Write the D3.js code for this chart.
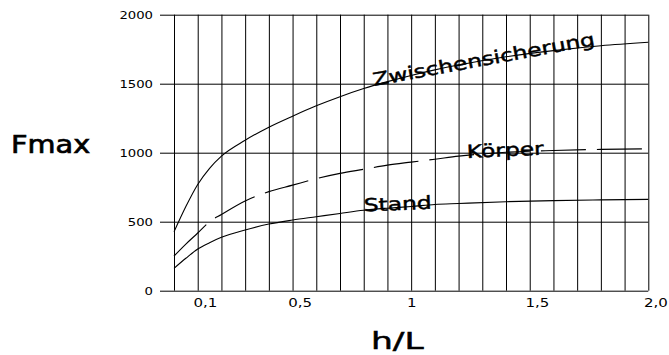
<!DOCTYPE html>
<html>
<head>
<meta charset="utf-8">
<script src="https://cdn.jsdelivr.net/npm/d3@7"></script>
<style>
  html, body { margin: 0; padding: 0; background: #fff; }
  svg { display: block; }
  text { font-family: "DejaVu Sans", Verdana, sans-serif; fill: #000; }
</style>
</head>
<body>
<svg id="chart" width="669" height="355"></svg>
<script>
// ---- data ----
const hValues = [0, 0.05, 0.1, 0.15, 0.2, 0.3, 0.4, 0.5, 0.6, 0.7, 0.8, 0.9, 1.0, 1.1, 1.2, 1.4, 1.6, 1.8, 2.0];
const zwischensicherung = [427, 610, 770, 887, 975, 1090, 1185, 1265, 1340, 1406, 1465, 1515, 1560, 1600, 1635, 1695, 1740, 1775, 1800];
const koerper = [251, 338, 418, 500, 552, 650, 718, 765, 812, 850, 880, 910, 932, 953, 975, 1003, 1016, 1024, 1028];
const stand = [162, 235, 302, 348, 387, 440, 483, 512, 536, 560, 583, 598, 610, 625, 632, 645, 653, 658, 662];
const seriesNames = ["Zwischensicherung", "Körper", "Stand"];
const labelH = [0.843, 1.236, 0.801];
const labelF = [1483, 962, 574];
const yTicks = [0, 500, 1000, 1500, 2000];
const xGridTicks = [0, 0.1, 0.2, 0.3, 0.4, 0.5, 0.6, 0.7, 0.8, 0.9, 1.0, 1.1, 1.2, 1.3, 1.4, 1.5, 1.6, 1.7, 1.8, 1.9, 2.0];
const xLabelValues = [0.1, 0.5, 1.0, 1.5, 2.0];
const xLabelTexts = ["0,1", "0,5", "1", "1,5", "2,0"];
const yTitle = "Fmax";
const xTitle = "h/L";

(function () {
// ---- layout ----
const svg = d3.select("#chart");
const W = 669, H = 355;
const pLeft = 174, pRight = 648.3, pTop = 14.7, pBottom = 290.7;
const x = d3.scaleLinear().domain([0, 2]).range([pLeft, pRight]);
const y = d3.scaleLinear().domain([0, 2000]).range([pBottom, pTop]);

svg.append("rect").attr("width", W).attr("height", H).attr("fill", "#fff");

// y axis with horizontal grid lines
const yAxisX = 160;
const yAxis = svg.append("g")
  .attr("transform", `translate(${yAxisX},0)`)
  .call(d3.axisLeft(y).tickValues(yTicks).tickSizeInner(-(pRight - yAxisX)).tickSizeOuter(0).tickPadding(7).tickFormat(d => String(d)));
yAxis.select(".domain").remove();
yAxis.selectAll(".tick line").attr("stroke", "#000").attr("stroke-width", 1);
const ySx = 1.2;
yAxis.selectAll(".tick text")
  .attr("font-size", 11)
  .attr("font-family", "DejaVu Sans")
  .attr("x", -7 / ySx)
  .attr("transform", `scale(${ySx},1)`);

// x axis with vertical grid lines
const xAxis = svg.append("g")
  .attr("transform", `translate(0,${pBottom})`)
  .call(d3.axisBottom(x).tickValues(xGridTicks).tickSizeInner(-(pBottom - pTop)).tickSizeOuter(0).tickPadding(6)
    .tickFormat(d => {
      const i = xLabelValues.findIndex(v => Math.abs(v - d) < 1e-9);
      return i >= 0 ? xLabelTexts[i] : "";
    }));
xAxis.select(".domain").remove();
xAxis.selectAll(".tick line").attr("stroke", "#000").attr("stroke-width", 1);
const xSx = 1.2, xFs = 12.5;
xAxis.selectAll(".tick text").each(function(d) {
  const t = d3.select(this);
  const s = t.text();
  t.attr("font-size", xFs).attr("font-family", "DejaVu Sans").attr("dy", null).attr("y", 16);
  if (!s) return;
  if (s.length === 1) {
    t.attr("text-anchor", "middle").attr("x", 0).attr("transform", `scale(${xSx},1)`);
  } else {
    const digitW = 0.636 * xFs * xSx;
    let startX = -digitW / 2;
    const w = this.getComputedTextLength() * xSx;
    const tickX = x(d);
    if (tickX + startX + w > W - 1) startX = (W - 1) - tickX - w;
    t.attr("text-anchor", "start").attr("x", startX / xSx).attr("transform", `scale(${xSx},1)`);
  }
});

// curves
const seriesData = [zwischensicherung, koerper, stand];
const line = d3.line()
  .x((d, i) => x(hValues[i]))
  .y(d => y(d))
  .curve(d3.curveMonotoneX);
seriesData.forEach((vals, k) => {
  svg.append("path")
    .datum(vals)
    .attr("d", line)
    .attr("fill", "none")
    .attr("stroke", "#000")
    .attr("stroke-width", 1.1)
    .attr("stroke-dasharray", k === 1 ? "45,11" : null);
});

// curve labels
const labelAngles = [-10.5, -2.5, -2.3];
seriesNames.forEach((name, k) => {
  svg.append("text")
    .attr("transform", `translate(${x(labelH[k])},${y(labelF[k])}) rotate(${labelAngles[k]}) scale(1.3,1)`)
    .attr("font-size", 18)
    .attr("stroke", "#000")
    .attr("stroke-width", 0.45)
    .text(name);
});

// axis titles
svg.append("text")
  .attr("transform", `translate(11,153.3) scale(1.15,1)`)
  .attr("font-size", 25)
  .attr("stroke", "#000")
  .attr("stroke-width", 0.7)
  .text(yTitle);
svg.append("text")
  .attr("transform", `translate(371,349) scale(1.5,1)`)
  .attr("font-size", 23)
  .attr("stroke", "#000")
  .attr("stroke-width", 0.5)
  .text(xTitle);
})();
</script>
</body>
</html>
